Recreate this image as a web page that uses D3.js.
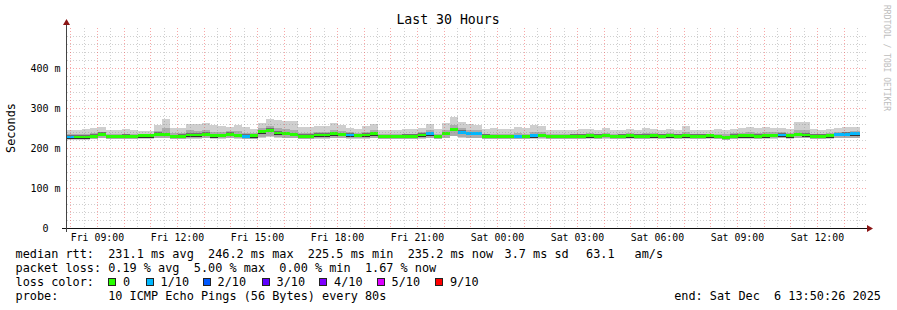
<!DOCTYPE html>
<html><head><meta charset="utf-8">
<script src="https://cdn.jsdelivr.net/npm/d3@7"></script>
<style>
body{margin:0;background:#fff}
text{font-family:"DejaVu Sans Mono",monospace;white-space:pre;fill:#000}
</style>
</head><body><svg id="c" width="897" height="310"></svg>
<script>
// ---------- data ----------
const startTime = new Date(2025, 11, 5, 7, 50, 26);
const endTime = new Date(2025, 11, 6, 13, 50, 26);
const binMinutes = 18;
const medianMs = [227,227,227,229,234,228,228,229,228,230,230,234,233,228,229,232,232,234,230,231,
  234,231,229,230,240,244,237,236,233,229,229,232,232,235,233,232,231,232,235,228,
  228,228,229,229,232,235,228,236,246,239,236,236,229,228,228,228,228,228,230,231,
  228,228,228,229,229,230,229,231,228,229,230,229,229,230,229,230,229,230,229,229,
  230,228,226,229,230,230,229,230,231,232,230,233,232,229,229,230,233,234,235,235];
const lossCount = [1,0,0,0,0,0,0,0,0,0,0,0,0,0,0,0,0,0,0,0,
  0,0,1,0,0,0,0,0,0,0,0,0,0,0,0,1,0,0,0,0,
  0,0,0,0,0,1,0,0,0,1,1,1,0,0,0,0,1,0,1,0,
  0,0,0,0,0,0,0,0,0,0,0,0,0,0,0,0,0,0,0,0,
  0,0,0,0,0,0,0,0,0,1,0,0,0,0,0,0,1,1,1,1];
const smokeTop = [244,245,248,250,252,245,246,248,245,243,243,258,272,250,250,261,261,262,258,256,
  252,258,252,248,262,273,269,267,268,252,252,256,255,263,258,250,248,256,261,245,
  244,245,247,247,250,261,248,262,277,265,260,258,248,249,248,248,252,249,257,256,
  244,245,246,245,247,248,246,250,245,246,248,246,249,248,246,247,246,255,246,245,
  246,247,245,248,251,252,250,252,250,251,248,265,264,247,246,248,250,252,252,253];
const smokeMid = [234,234,235,237,241,235,235,236,235,236,236,243,249,237,237,244,243,245,241,241,
  242,242,238,237,249,255,249,248,246,238,238,241,241,246,243,239,238,241,245,235,
  234,235,236,236,239,245,236,246,258,249,245,244,236,236,236,236,237,236,240,240,
  234,235,235,235,236,237,236,238,235,236,237,236,237,237,236,237,236,240,236,235,
  236,236,234,237,238,239,238,239,239,240,237,246,245,236,236,237,240,241,242,242];
const smokeBottom = [221,221,221,222,224,222,222,222,222,223,223,224,224,222,222,223,223,224,223,223,
  224,223,222,222,226,228,226,225,224,222,222,223,223,224,224,223,223,223,225,222,
  222,222,222,222,223,225,222,225,229,226,225,225,222,222,222,222,222,222,223,223,
  222,222,222,222,222,223,222,223,222,222,223,222,222,223,222,223,222,223,222,222,
  223,222,220,222,223,223,222,223,223,224,223,224,224,222,222,223,224,225,225,225];
const yTicks = [0, 100, 200, 300, 400];
const yTickLabels = ["0  ", "100 m", "200 m", "300 m", "400 m"];
const lossColors = ["#26ff00", "#00b8ff", "#0059ff", "#5e00ff", "#7e00ff", "#dd00ff", "#ff0000"];
const lossLegend = ["0", "1/10", "2/10", "3/10", "4/10", "5/10", "9/10"];
const titleText = "Last 30 Hours";
const rttLine = ["median rtt:  231.1 ms avg  246.2 ms max  225.5 ms min  235.2 ms now", "3.7 ms sd", "63.1", "am/s"];
const lossLine = "packet loss: 0.19 % avg  5.00 % max  0.00 % min  1.67 % now";
const probeLine = "probe:       10 ICMP Echo Pings (56 Bytes) every 80s";
const endLine = "end: Sat Dec  6 13:50:26 2025";

// ---------- drawing ----------
const svg = d3.select("#c");
const x = d3.scaleTime().domain([startTime, endTime]).range([66, 866]);
const y = d3.scaleLinear().domain([0, 500]).range([228, 28]);
const binStart = i => d3.timeMinute.offset(startTime, i * binMinutes);
const lossIdx = c => c >= 9 ? 6 : Math.min(c, 5);

svg.append("rect").attr("width", 897).attr("height", 310).attr("fill", "#fff");

// smoke + median
const g = svg.append("g").attr("shape-rendering", "crispEdges");
medianMs.forEach((m, i) => {
  const x0 = x(binStart(i)), x1 = Math.min(x(binStart(i + 1)), 860);
  if (x1 <= x0) return;
  const w = x1 - x0;
  g.append("rect").attr("x", x0).attr("width", w)
    .attr("y", y(smokeTop[i])).attr("height", y(smokeBottom[i]) - y(smokeTop[i])).attr("fill", "#cfcfcf");
  g.append("rect").attr("x", x0).attr("width", w)
    .attr("y", y(smokeMid[i])).attr("height", y(smokeBottom[i] + 1) - y(smokeMid[i])).attr("fill", "#ababab");
  g.append("rect").attr("x", x0).attr("width", w)
    .attr("y", y(m + 5)).attr("height", y(m - 4) - y(m + 5)).attr("fill", "#707070");
  g.append("rect").attr("x", x0).attr("width", w)
    .attr("y", y(m - 2)).attr("height", y(m - 4) - y(m - 2)).attr("fill", "#333");
  g.append("rect").attr("x", x0).attr("width", w)
    .attr("y", y(m + 4)).attr("height", y(m - 3) - y(m + 4)).attr("fill", lossColors[lossIdx(lossCount[i])]);
});

// grid (on top, translucent, dotted)
const minorCol = "rgba(140,140,140,0.42)", majorCol = "rgba(240,60,60,0.45)";
const grid = svg.append("g").attr("shape-rendering", "crispEdges");
d3.range(20, 500, 20).forEach(v => {
  const major = v % 100 === 0;
  grid.append("line").attr("x1", 67).attr("x2", 867).attr("y1", y(v) + 0.5).attr("y2", y(v) + 0.5)
    .attr("stroke", major ? majorCol : minorCol).attr("stroke-dasharray", "1,2");
});
d3.timeMinute.every(30).range(startTime, endTime).forEach(t => {
  const major = t.getMinutes() === 0;
  grid.append("line").attr("x1", Math.round(x(t)) + 0.5).attr("x2", Math.round(x(t)) + 0.5).attr("y1", 28).attr("y2", 228)
    .attr("stroke", major ? majorCol : minorCol).attr("stroke-dasharray", "1,2");
});

// axes lines and arrows
svg.append("line").attr("x1", 62).attr("x2", 869).attr("y1", 228.5).attr("y2", 228.5).attr("stroke", "#111");
svg.append("line").attr("x1", 66.5).attr("x2", 66.5).attr("y1", 232).attr("y2", 23).attr("stroke", "#444");
svg.append("path").attr("d", "M873,228.5 L867,225 L867,232 Z").attr("fill", "#8b1515");
svg.append("path").attr("d", "M66.5,19 L63,25 L70,25 Z").attr("fill", "#8b1515");

// x labels
const xAxis = d3.axisBottom(x)
  .tickValues(d3.timeHour.every(3).range(startTime, endTime))
  .tickFormat(d3.timeFormat("%a %H:%M")).tickSize(0).tickPadding(0);
const xa = svg.append("g").attr("transform", "translate(0,232)").call(xAxis);
xa.select(".domain").remove();
xa.selectAll("text").attr("font-size", "9.85px").attr("font-family", "DejaVu Sans Mono").attr("dy", "9px").attr("fill", "#000");

// y labels
const yAxis = d3.axisLeft(y).tickValues(yTicks).tickFormat((d, i) => yTickLabels[i]).tickSize(0).tickPadding(0);
const ya = svg.append("g").attr("transform", "translate(60.5,0)").call(yAxis);
ya.select(".domain").remove();
ya.selectAll("text").attr("font-size", "10px").attr("font-family", "DejaVu Sans Mono").attr("dy", "0.35em").attr("fill", "#000")
  .style("white-space", "pre");

// title
svg.append("text").attr("x", 448).attr("y", 24).attr("text-anchor", "middle").attr("font-size", "13.2px").text(titleText);
// y label
svg.append("text").attr("transform", "translate(15,128) rotate(-90)").attr("text-anchor", "middle")
  .attr("font-size", "11.85px").text("Seconds");
// watermark
svg.append("text").attr("transform", "translate(884,5) rotate(90)").attr("font-size", "8px")
  .style("fill", "#bdbdbd").text("RRDTOOL / TOBI OETIKER");

// legend
const fs = "11.85px";
const rttX = [15.5, 504.5, 586, 634.5];
rttLine.forEach((s, i) => {
  svg.append("text").attr("x", rttX[i]).attr("y", 258).attr("font-size", fs).text(s);
});
svg.append("text").attr("x", 15.5).attr("y", 272).attr("font-size", fs).text(lossLine);
svg.append("text").attr("x", 15.5).attr("y", 286).attr("font-size", fs).text("loss color:");
const boxX = [108, 145.5, 202.5, 261.5, 319, 376.5, 435];
lossLegend.forEach((l, i) => {
  svg.append("rect").attr("x", boxX[i] + 0.5).attr("y", 278.5).attr("width", 7).attr("height", 7)
    .attr("fill", lossColors[i]).attr("stroke", "#222").attr("shape-rendering", "crispEdges");
  svg.append("text").attr("x", boxX[i] + 15).attr("y", 286).attr("font-size", fs).text(l);
});
svg.append("text").attr("x", 15.5).attr("y", 300).attr("font-size", fs).text(probeLine);
svg.append("text").attr("x", 881).attr("y", 300).attr("text-anchor", "end").attr("font-size", fs).text(endLine);
</script></body></html>
